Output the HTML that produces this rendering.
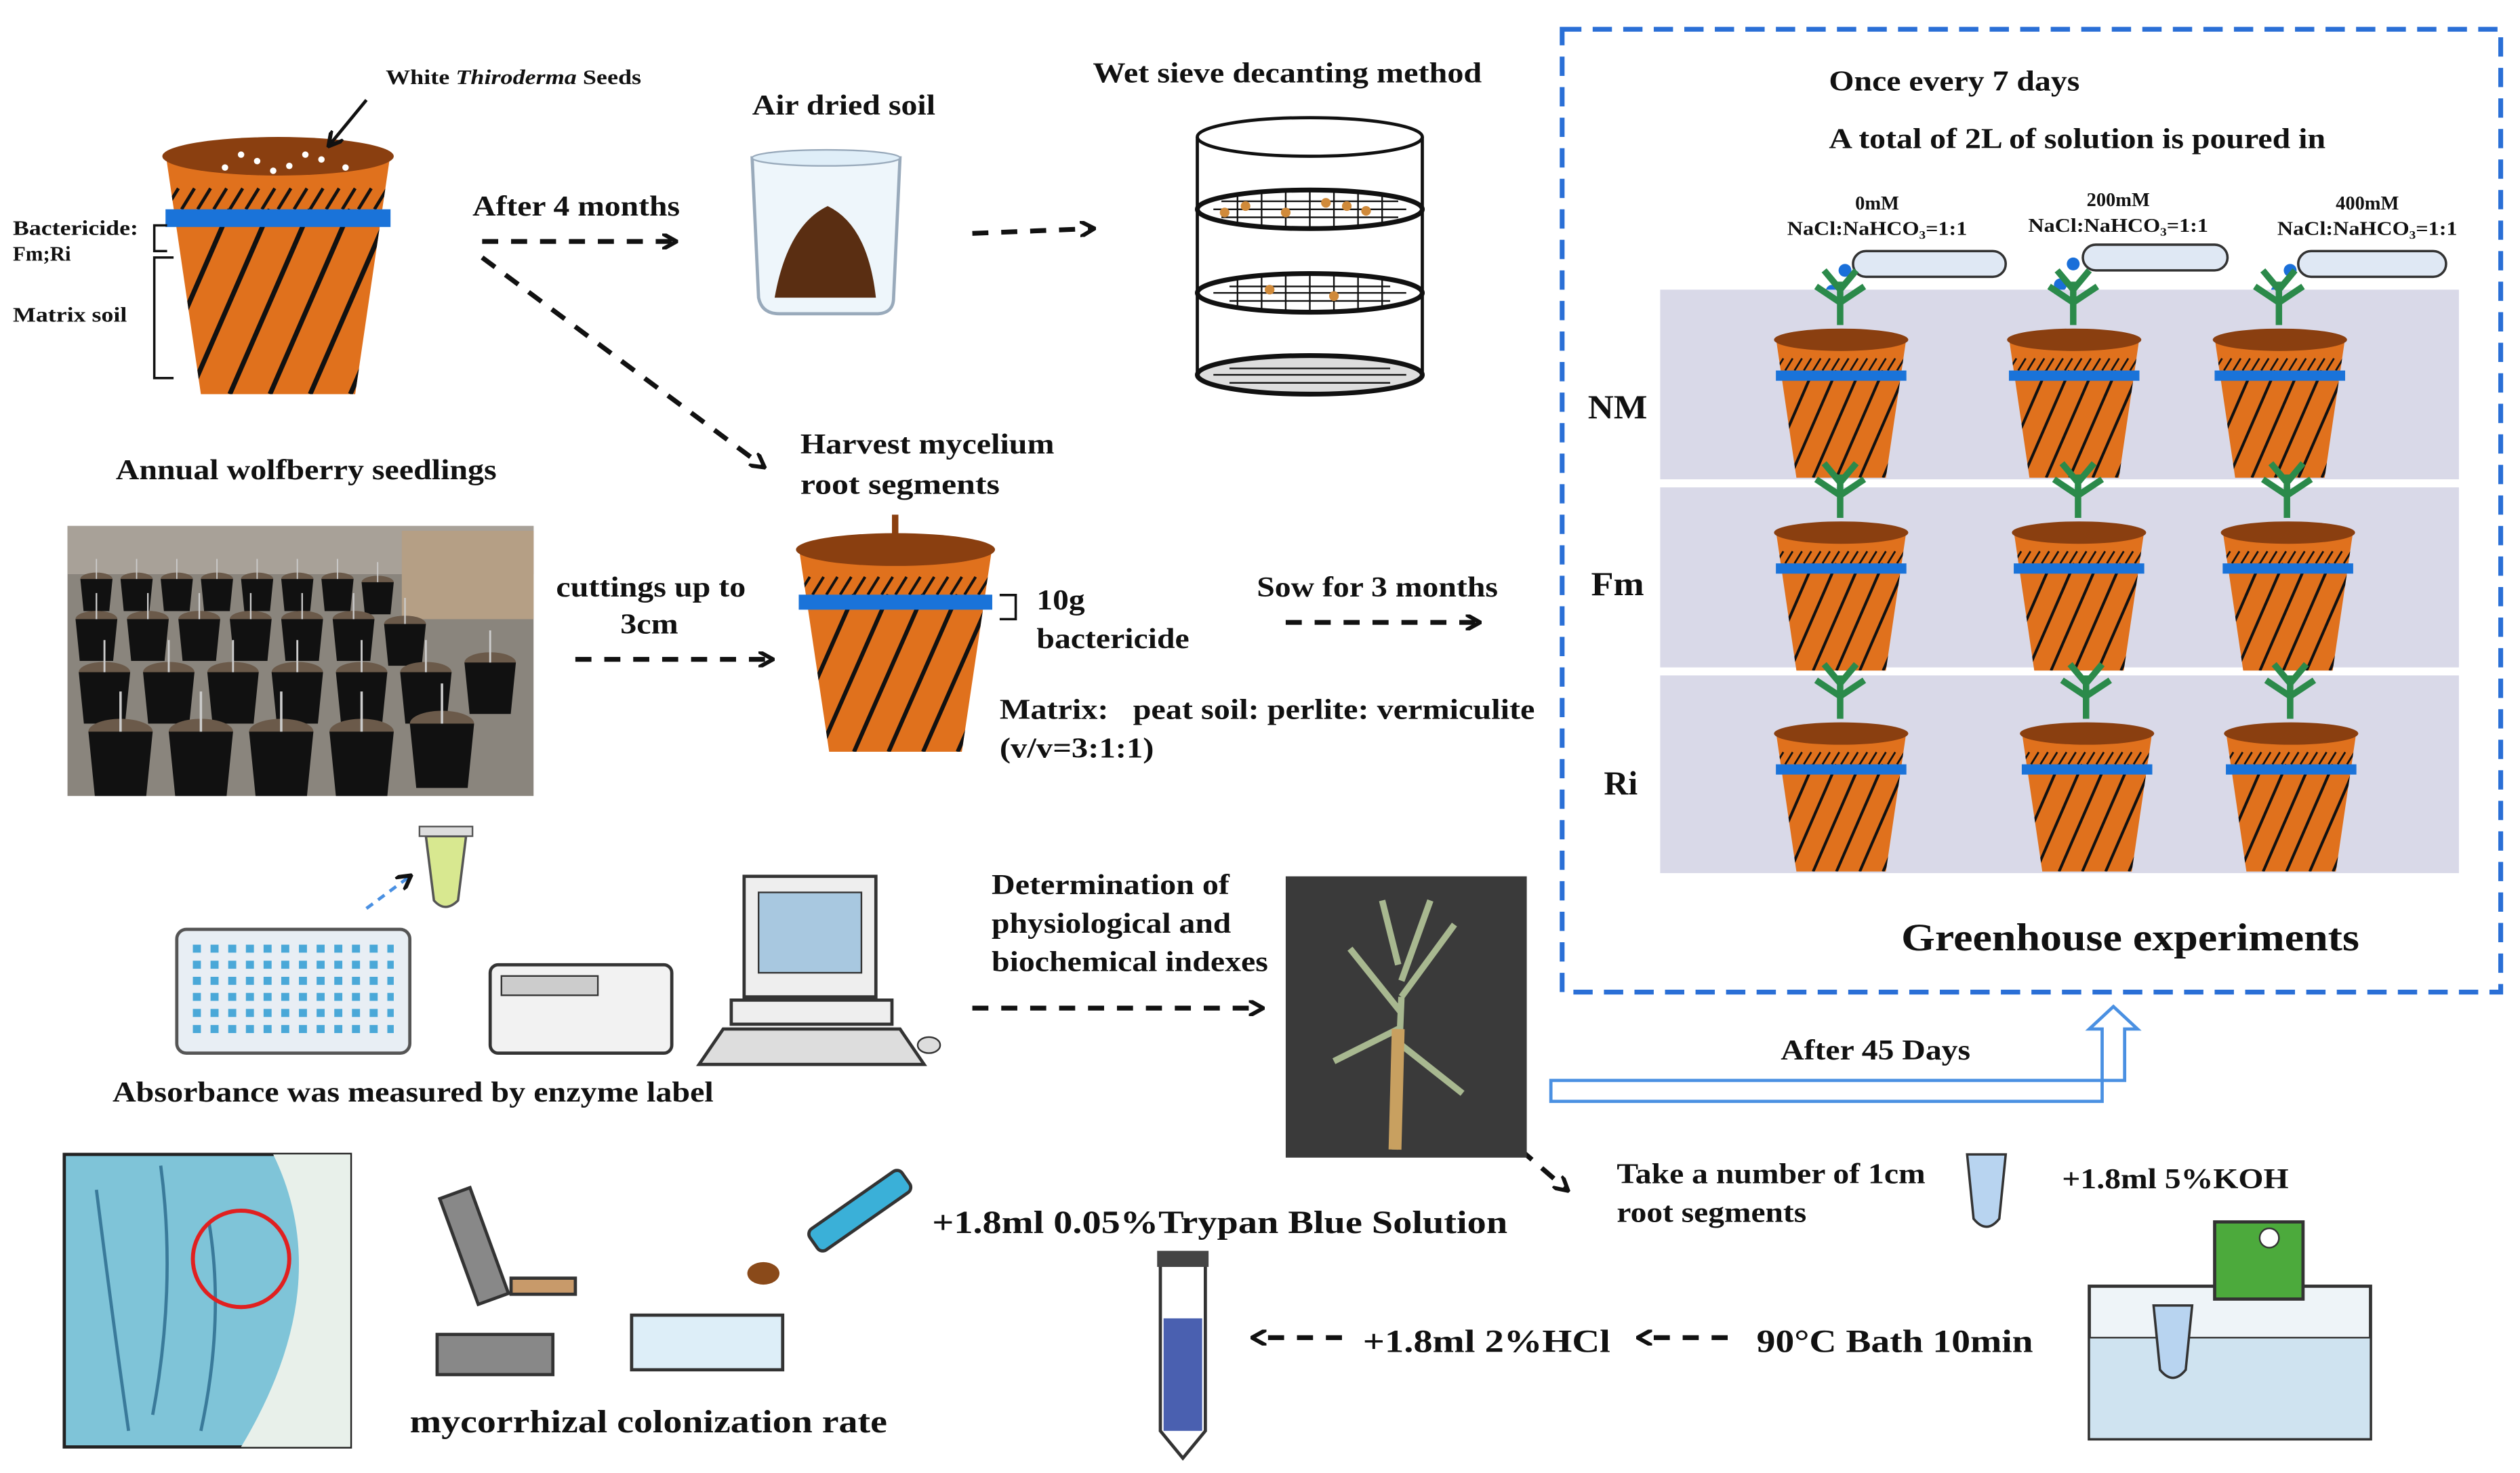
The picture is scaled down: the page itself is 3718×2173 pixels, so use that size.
<!DOCTYPE html>
<html><head><meta charset="utf-8"><style>html,body{margin:0;padding:0;background:#fff}svg{display:block}text{font-family:"Liberation Serif",serif;font-weight:bold;fill:#111}</style></head>
<body>
<svg width="3718" height="2173" viewBox="0 0 1568 916" xmlns="http://www.w3.org/2000/svg">
<defs>
<clipPath id="pc"><path d="M0,0 L140,0 L118,150 L22,150 Z"/></clipPath>
<g id="pot">
<path d="M0,0 L140,0 L118,150 L22,150 Z" fill="#e0711d"/>
<g clip-path="url(#pc)" stroke="#111" stroke-width="3">
<line x1="-10" y1="150" x2="40" y2="35"/><line x1="15" y1="150" x2="65" y2="35"/><line x1="40" y1="150" x2="90" y2="35"/><line x1="65" y1="150" x2="115" y2="35"/><line x1="90" y1="150" x2="140" y2="35"/><line x1="115" y1="150" x2="165" y2="35"/>
<g stroke-width="2"><line x1="0" y1="35" x2="8" y2="22"/><line x1="10" y1="35" x2="18" y2="22"/><line x1="20" y1="35" x2="28" y2="22"/><line x1="30" y1="35" x2="38" y2="22"/><line x1="40" y1="35" x2="48" y2="22"/><line x1="50" y1="35" x2="58" y2="22"/><line x1="60" y1="35" x2="68" y2="22"/><line x1="70" y1="35" x2="78" y2="22"/><line x1="80" y1="35" x2="88" y2="22"/><line x1="90" y1="35" x2="98" y2="22"/><line x1="100" y1="35" x2="108" y2="22"/><line x1="110" y1="35" x2="118" y2="22"/><line x1="120" y1="35" x2="128" y2="22"/><line x1="130" y1="35" x2="138" y2="22"/></g>
</g>
<rect x="0" y="35" width="140" height="11" fill="#1a73d9"/>
<ellipse cx="70" cy="2" rx="72" ry="12" fill="#8a3f10"/>
</g>
<g id="gpot">
<use href="#pot" transform="scale(0.58)"/>
<g stroke="#2b8a4a" stroke-width="4" fill="none"><path d="M40,-8 L40,-35 M40,-22 L25,-32 M40,-22 L55,-32 M40,-30 L30,-42 M40,-30 L50,-42"/></g>
</g>
<g id="bp"><ellipse cx="0" cy="0" rx="20" ry="8" fill="#6b5a4a"/><path d="M-20,0 L-16,40 L16,40 L20,0 Z" fill="#111"/><line x1="0" y1="0" x2="0" y2="-25" stroke="#ccc" stroke-width="1.5"/></g>
<marker id="ah" markerWidth="10" markerHeight="10" refX="8" refY="5" orient="auto" markerUnits="userSpaceOnUse"><path d="M0,0 L9,5 L0,10" fill="none" stroke="#111" stroke-width="2.5"/></marker>
</defs>
<g stroke="#111" stroke-width="3" stroke-dasharray="10,8" fill="none" marker-end="url(#ah)">
<line x1="300" y1="150" x2="420" y2="150"/>
<line x1="300" y1="160" x2="475" y2="290"/>
<line x1="605" y1="145" x2="680" y2="142"/>
<line x1="358" y1="410" x2="480" y2="410"/>
<line x1="800" y1="387" x2="920" y2="387"/>
<line x1="605" y1="627" x2="785" y2="627"/>
<line x1="932" y1="703" x2="975" y2="740"/>
<line x1="1075" y1="832" x2="1020" y2="832"/>
<line x1="835" y1="832" x2="780" y2="832"/>
</g>
<use href="#pot" transform="translate(103,95)"/>
<g fill="#fff"><circle cx="140" cy="104" r="2"/><circle cx="160" cy="100" r="2"/><circle cx="180" cy="103" r="2"/><circle cx="200" cy="99" r="2"/><circle cx="215" cy="104" r="2"/><circle cx="150" cy="96" r="2"/><circle cx="190" cy="96" r="2"/><circle cx="170" cy="106" r="2"/></g>
<line x1="228" y1="62" x2="205" y2="90" stroke="#111" stroke-width="2" marker-end="url(#ah)"/>
<text x="240" y="52" font-size="13" textLength="159" lengthAdjust="spacingAndGlyphs">White <tspan font-style="italic">Thiroderma</tspan> Seeds</text>
<text x="8" y="146" font-size="13" textLength="78" lengthAdjust="spacingAndGlyphs">Bactericide:</text><text x="8" y="162" font-size="13">Fm;Ri</text><text x="8" y="200" font-size="13" textLength="71" lengthAdjust="spacingAndGlyphs">Matrix soil</text>
<path d="M104,140 H96 V156 H104 M108,160 H96 V235 H108" stroke="#111" fill="none" stroke-width="1.5"/>
<text x="294" y="134" font-size="18" textLength="129" lengthAdjust="spacingAndGlyphs">After 4 months</text>
<text x="468" y="71" font-size="18" textLength="114" lengthAdjust="spacingAndGlyphs">Air dried soil</text>
<path d="M468,98 L472,185 Q474,195 485,195 L545,195 Q556,195 556,185 L560,98 Z" fill="#eef6fb" stroke="#9ab" stroke-width="2"/>
<ellipse cx="514" cy="98" rx="46" ry="5" fill="#dfeef8" stroke="#9ab"/>
<path d="M482,185 Q490,140 515,128 Q540,140 545,185 Z" fill="#5a2e12"/>
<text x="680" y="51" font-size="18" textLength="242" lengthAdjust="spacingAndGlyphs">Wet sieve decanting method</text>
<g fill="none" stroke="#111" stroke-width="2">
<line x1="745" y1="85" x2="745" y2="235"/><line x1="885" y1="85" x2="885" y2="235"/>
<ellipse cx="815" cy="85" rx="70" ry="12"/>
<ellipse cx="815" cy="130" rx="70" ry="12" fill="#fff" stroke-width="3"/>
<ellipse cx="815" cy="182" rx="70" ry="12" fill="#fff" stroke-width="3"/>
<ellipse cx="815" cy="233" rx="70" ry="12" fill="#ddd" stroke-width="3"/>
</g>
<g stroke="#111" stroke-width="1">
<path d="M760,125 H870 M755,130 H875 M760,135 H870 M765,178 H865 M755,182 H875 M765,187 H865 M765,229 H865 M755,233 H875 M765,238 H865"/>
<path d="M770,120 V140 M785,119 V141 M800,118 V142 M815,118 V142 M830,118 V142 M845,119 V141 M860,120 V140 M770,172 V192 M785,171 V193 M800,170 V194 M815,170 V194 M830,170 V194 M845,171 V193 M860,172 V192"/>
</g>
<g fill="#d08a3a"><circle cx="775" cy="128" r="3"/><circle cx="800" cy="132" r="3"/><circle cx="825" cy="126" r="3"/><circle cx="850" cy="131" r="3"/><circle cx="790" cy="180" r="3"/><circle cx="830" cy="184" r="3"/><circle cx="762" cy="132" r="3"/><circle cx="838" cy="128" r="3"/></g>
<text x="72" y="298" font-size="18" textLength="237" lengthAdjust="spacingAndGlyphs">Annual wolfberry seedlings</text>
<rect x="42" y="327" width="290" height="168" fill="#8a857d"/>
<rect x="42" y="327" width="290" height="30" fill="#a8a198"/>
<rect x="250" y="330" width="82" height="55" fill="#b59f85"/>
<use href="#bp" transform="translate(60,360) scale(0.5)"/><use href="#bp" transform="translate(85,360) scale(0.5)"/><use href="#bp" transform="translate(110,360) scale(0.5)"/><use href="#bp" transform="translate(135,360) scale(0.5)"/><use href="#bp" transform="translate(160,360) scale(0.5)"/><use href="#bp" transform="translate(185,360) scale(0.5)"/><use href="#bp" transform="translate(210,360) scale(0.5)"/><use href="#bp" transform="translate(235,362) scale(0.5)"/>
<use href="#bp" transform="translate(60,385) scale(0.65)"/><use href="#bp" transform="translate(92,385) scale(0.65)"/><use href="#bp" transform="translate(124,385) scale(0.65)"/><use href="#bp" transform="translate(156,385) scale(0.65)"/><use href="#bp" transform="translate(188,385) scale(0.65)"/><use href="#bp" transform="translate(220,385) scale(0.65)"/><use href="#bp" transform="translate(252,388) scale(0.65)"/>
<use href="#bp" transform="translate(65,418) scale(0.8)"/><use href="#bp" transform="translate(105,418) scale(0.8)"/><use href="#bp" transform="translate(145,418) scale(0.8)"/><use href="#bp" transform="translate(185,418) scale(0.8)"/><use href="#bp" transform="translate(225,418) scale(0.8)"/><use href="#bp" transform="translate(265,418) scale(0.8)"/><use href="#bp" transform="translate(305,412) scale(0.8)"/>
<use href="#bp" transform="translate(75,455) scale(1)"/><use href="#bp" transform="translate(125,455) scale(1)"/><use href="#bp" transform="translate(175,455) scale(1)"/><use href="#bp" transform="translate(225,455) scale(1)"/><use href="#bp" transform="translate(275,450) scale(1)"/>
<text x="498" y="282" font-size="18" textLength="158" lengthAdjust="spacingAndGlyphs">Harvest mycelium</text><text x="498" y="307" font-size="18" textLength="124" lengthAdjust="spacingAndGlyphs">root segments</text>
<use href="#pot" transform="translate(497,340) scale(0.86,0.85)"/>
<line x1="557" y1="320" x2="557" y2="335" stroke="#8a3f10" stroke-width="4"/>
<path d="M622,370 H632 V385 H622" stroke="#111" fill="none" stroke-width="1.5"/>
<text x="346" y="371" font-size="18" textLength="118" lengthAdjust="spacingAndGlyphs">cuttings up to</text><text x="386" y="394" font-size="18" textLength="36" lengthAdjust="spacingAndGlyphs">3cm</text>
<text x="645" y="379" font-size="18" textLength="30" lengthAdjust="spacingAndGlyphs">10g</text><text x="645" y="403" font-size="18" textLength="95" lengthAdjust="spacingAndGlyphs">bactericide</text>
<text x="782" y="371" font-size="18" textLength="150" lengthAdjust="spacingAndGlyphs">Sow for 3 months</text>
<text x="622" y="447" font-size="18" textLength="333" lengthAdjust="spacingAndGlyphs">Matrix:&#160;&#160; peat soil: perlite: vermiculite</text>
<text x="622" y="471" font-size="18" textLength="96" lengthAdjust="spacingAndGlyphs">(v/v=3:1:1)</text>
<rect x="972" y="18" width="584" height="599" fill="none" stroke="#2a6fd6" stroke-width="3" stroke-dasharray="12,7"/>
<text x="1138" y="56" font-size="18" textLength="156" lengthAdjust="spacingAndGlyphs">Once every 7 days</text>
<text x="1138" y="92" font-size="18" textLength="309" lengthAdjust="spacingAndGlyphs">A total of 2L of solution is poured in</text>
<g font-size="12" text-anchor="middle"><text x="1168" y="130">0mM</text><text x="1168" y="146" textLength="112" lengthAdjust="spacingAndGlyphs">NaCl:NaHCO₃=1:1</text><text x="1318" y="128">200mM</text><text x="1318" y="144" textLength="112" lengthAdjust="spacingAndGlyphs">NaCl:NaHCO₃=1:1</text><text x="1473" y="130">400mM</text><text x="1473" y="146" textLength="112" lengthAdjust="spacingAndGlyphs">NaCl:NaHCO₃=1:1</text></g>
<g fill="#dfe8f4" stroke="#333" stroke-width="1.5"><rect x="1153" y="156" width="95" height="16" rx="8"/><rect x="1296" y="152" width="90" height="16" rx="8"/><rect x="1430" y="156" width="92" height="16" rx="8"/></g>
<g fill="#1a6fd9"><circle cx="1148" cy="168" r="4"/><circle cx="1140" cy="181" r="4"/><circle cx="1290" cy="164" r="4"/><circle cx="1282" cy="177" r="4"/><circle cx="1425" cy="168" r="4"/><circle cx="1417" cy="181" r="4"/></g>
<g fill="#d9d9e8"><rect x="1033" y="180" width="497" height="118"/><rect x="1033" y="303" width="497" height="112"/><rect x="1033" y="420" width="497" height="123"/></g>
<use href="#gpot" transform="translate(1105,210)"/><use href="#gpot" transform="translate(1250,210)"/><use href="#gpot" transform="translate(1378,210)"/>
<use href="#gpot" transform="translate(1105,330)"/><use href="#gpot" transform="translate(1253,330)"/><use href="#gpot" transform="translate(1383,330)"/>
<use href="#gpot" transform="translate(1105,455)"/><use href="#gpot" transform="translate(1258,455)"/><use href="#gpot" transform="translate(1385,455)"/>
<text x="988" y="260" font-size="21" textLength="37" lengthAdjust="spacingAndGlyphs">NM</text><text x="990" y="370" font-size="21" textLength="33" lengthAdjust="spacingAndGlyphs">Fm</text><text x="998" y="494" font-size="21">Ri</text>
<text x="1183" y="591" font-size="24" textLength="285" lengthAdjust="spacingAndGlyphs">Greenhouse experiments</text>
<rect x="110" y="578" width="145" height="77" rx="6" fill="#e8eef4" stroke="#555" stroke-width="2"/>
<path d="M120,590 h125 M120,600 h125 M120,610 h125 M120,620 h125 M120,630 h125 M120,640 h125" stroke="#4aa8d8" stroke-width="5" stroke-dasharray="5,6"/>
<line x1="228" y1="565" x2="255" y2="545" stroke="#4a90e2" stroke-width="2" stroke-dasharray="5,4" marker-end="url(#ah)"/>
<path d="M265,520 h25 l-5,40 q-8,8 -15,0 z" fill="#d8e890" stroke="#555" stroke-width="1.5"/><rect x="261" y="514" width="33" height="6" fill="#ddd" stroke="#555"/>
<rect x="305" y="600" width="113" height="55" rx="5" fill="#f2f2f2" stroke="#333" stroke-width="2"/><rect x="312" y="607" width="60" height="12" fill="#ccc" stroke="#333"/>
<rect x="463" y="545" width="82" height="75" fill="#eee" stroke="#333" stroke-width="2"/><rect x="472" y="555" width="64" height="50" fill="#a8c8e0" stroke="#333"/>
<rect x="455" y="622" width="100" height="15" fill="#eee" stroke="#333" stroke-width="2"/>
<path d="M435,662 L450,640 L560,640 L575,662 Z" fill="#ddd" stroke="#333" stroke-width="2"/>
<ellipse cx="578" cy="650" rx="7" ry="5" fill="#ddd" stroke="#333"/>
<text x="70" y="685" font-size="18" textLength="374" lengthAdjust="spacingAndGlyphs">Absorbance was measured by enzyme label</text>
<text x="617" y="556" font-size="18" textLength="148" lengthAdjust="spacingAndGlyphs">Determination of</text><text x="617" y="580" font-size="18" textLength="149" lengthAdjust="spacingAndGlyphs">physiological and</text><text x="617" y="604" font-size="18" textLength="172" lengthAdjust="spacingAndGlyphs">biochemical indexes</text>
<rect x="800" y="545" width="150" height="175" fill="#3a3a3a"/>
<path d="M868,715 L872,620 M872,630 L840,590 M872,620 L905,575 M870,640 L830,660 M872,650 L910,680 M870,600 L860,560 M872,610 L890,560" stroke="#a8b890" stroke-width="4" fill="none"/>
<path d="M868,715 L870,640" stroke="#c8a060" stroke-width="8"/>
<path d="M965,672 H1322 V640 H1330 L1315,626 L1300,640 H1308 V685 H965 Z" fill="#fff" stroke="#4a90e2" stroke-width="2"/>
<text x="1108" y="659" font-size="18" textLength="118" lengthAdjust="spacingAndGlyphs">After 45 Days</text>
<text x="1006" y="736" font-size="18" textLength="192" lengthAdjust="spacingAndGlyphs">Take a number of 1cm</text><text x="1006" y="760" font-size="18" textLength="118" lengthAdjust="spacingAndGlyphs">root segments</text>
<path d="M1224,718 h24 l-4,40 q-8,10 -16,0 z" fill="#b8d4f0" stroke="#333" stroke-width="1.5"/>
<text x="1283" y="739" font-size="18" textLength="141" lengthAdjust="spacingAndGlyphs">+1.8ml 5%KOH</text>
<rect x="1300" y="800" width="175" height="95" fill="#eef4f8" stroke="#333" stroke-width="2"/>
<rect x="1300" y="832" width="175" height="63" fill="#cfe3f0" stroke="#333" stroke-width="1"/>
<rect x="1378" y="760" width="55" height="48" fill="#4caa3c" stroke="#333" stroke-width="2"/><circle cx="1412" cy="770" r="6" fill="#fff" stroke="#333"/>
<path d="M1340,812 h24 l-4,40 q-8,10 -16,0 z" fill="#b8d4f0" stroke="#333" stroke-width="1.5"/>
<text x="1093" y="841" font-size="20" textLength="172" lengthAdjust="spacingAndGlyphs">90°C Bath 10min</text>
<text x="848" y="841" font-size="20" textLength="154" lengthAdjust="spacingAndGlyphs">+1.8ml 2%HCl</text>
<path d="M722,780 h28 v110 l-14,17 l-14,-17 z" fill="#fff" stroke="#333" stroke-width="2"/><rect x="724" y="820" width="24" height="70" fill="#4a60b0"/><rect x="720" y="778" width="32" height="10" fill="#444"/>
<text x="580" y="767" font-size="20" textLength="358" lengthAdjust="spacingAndGlyphs">+1.8ml 0.05%Trypan Blue Solution</text>
<rect x="40" y="718" width="178" height="182" fill="#7fc4d8" stroke="#222" stroke-width="2"/>
<path d="M170,718 Q210,800 150,900 L218,900 L218,718 Z" fill="#e8f0ea"/>
<path d="M60,740 Q70,820 80,890 M100,725 Q110,800 95,880 M130,760 Q140,820 125,890" stroke="#3a7a9a" stroke-width="2" fill="none"/>
<circle cx="150" cy="783" r="30" fill="none" stroke="#e02020" stroke-width="2.5"/>
<g fill="#888" stroke="#333" stroke-width="2"><rect x="272" y="830" width="72" height="25"/><rect x="285" y="740" width="20" height="70" transform="rotate(-20 295 775)"/><rect x="318" y="795" width="40" height="10" fill="#c89a6a"/></g>
<rect x="393" y="818" width="94" height="34" fill="#ddeef8" stroke="#333" stroke-width="2"/>
<rect x="500" y="745" width="70" height="16" rx="4" fill="#3ab0d8" stroke="#333" stroke-width="2" transform="rotate(-35 535 753)"/>
<ellipse cx="475" cy="792" rx="10" ry="7" fill="#8a4a1a"/>
<text x="255" y="891" font-size="20" textLength="297" lengthAdjust="spacingAndGlyphs">mycorrhizal colonization rate</text>
</svg>
</body></html>
